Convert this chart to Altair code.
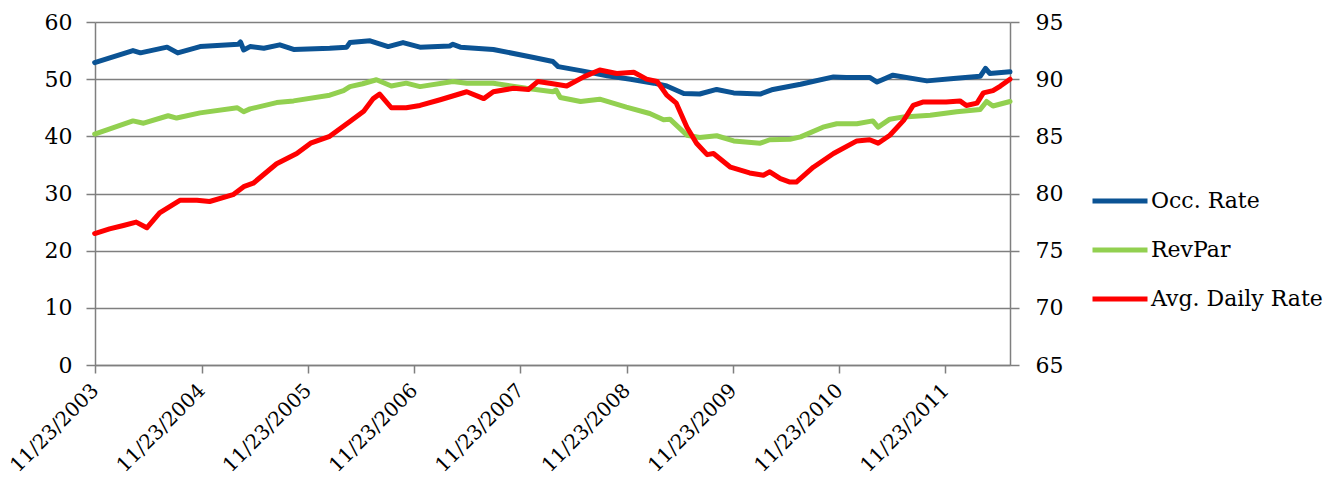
import altair as alt
import pandas as pd

# Series names and colours
series_names = ["Occ. Rate", "RevPar", "Avg. Daily Rate"]
series_colors = ["#0b5394", "#92d050", "#ff0000"]

# Dates as decimal years
occ_t = [2003.89, 2004.25, 2004.32, 2004.57, 2004.67, 2004.88, 2005.24, 2005.26, 2005.29, 2005.35,
         2005.48, 2005.63, 2005.76, 2006.10, 2006.26, 2006.29, 2006.48, 2006.65, 2006.79, 2006.95,
         2007.23, 2007.26, 2007.33, 2007.64, 2008.02, 2008.20, 2008.25, 2008.46, 2008.71, 2008.93,
         2009.15, 2009.27, 2009.43, 2009.58, 2009.74, 2009.90, 2010.15, 2010.27, 2010.53, 2010.84,
         2010.96, 2011.18, 2011.25, 2011.40, 2011.72, 2011.97, 2012.22, 2012.27, 2012.31, 2012.50]
occ_v = [52.9, 55.0, 54.6, 55.6, 54.6, 55.7, 56.1, 56.5, 55.1, 55.7,
         55.4, 56.0, 55.2, 55.4, 55.6, 56.4, 56.7, 55.7, 56.4, 55.6,
         55.8, 56.1, 55.6, 55.2, 53.8, 53.1, 52.2, 51.5, 50.6, 50.0,
         49.3, 48.8, 47.5, 47.4, 48.2, 47.6, 47.4, 48.2, 49.1, 50.4,
         50.3, 50.3, 49.5, 50.7, 49.7, 50.1, 50.5, 51.9, 51.0, 51.3]

rev_t = [2003.89, 2004.25, 2004.35, 2004.58, 2004.66, 2004.88, 2005.23, 2005.29, 2005.35, 2005.60,
         2005.76, 2006.10, 2006.23, 2006.29, 2006.41, 2006.54, 2006.68, 2006.82, 2006.95, 2007.26,
         2007.39, 2007.64, 2007.95, 2008.20, 2008.23, 2008.27, 2008.46, 2008.64, 2008.89, 2009.11,
         2009.24, 2009.30, 2009.46, 2009.58, 2009.74, 2009.90, 2010.15, 2010.24, 2010.43, 2010.53,
         2010.74, 2010.87, 2011.06, 2011.21, 2011.26, 2011.37, 2011.50, 2011.75, 2012.00, 2012.22,
         2012.28, 2012.34, 2012.50]
rev_v = [40.4, 42.7, 42.3, 43.6, 43.2, 44.1, 45.0, 44.3, 44.8, 45.9,
         46.2, 47.2, 48.0, 48.7, 49.2, 49.9, 48.8, 49.3, 48.7, 49.6,
         49.3, 49.3, 48.4, 47.8, 48.1, 46.8, 46.1, 46.5, 45.1, 44.0,
         42.9, 43.0, 40.2, 39.8, 40.1, 39.2, 38.8, 39.4, 39.5, 39.9,
         41.6, 42.2, 42.2, 42.7, 41.6, 43.0, 43.4, 43.7, 44.3, 44.7,
         46.1, 45.3, 46.1]

adr_t = [2003.89, 2004.03, 2004.16, 2004.28, 2004.38, 2004.50, 2004.69, 2004.85, 2004.97, 2005.19,
         2005.29, 2005.38, 2005.60, 2005.79, 2005.92, 2006.10, 2006.29, 2006.42, 2006.51, 2006.57,
         2006.68, 2006.82, 2006.95, 2007.14, 2007.39, 2007.55, 2007.64, 2007.83, 2007.97, 2008.06,
         2008.20, 2008.33, 2008.49, 2008.64, 2008.80, 2008.96, 2009.08, 2009.18, 2009.27, 2009.36,
         2009.46, 2009.55, 2009.65, 2009.71, 2009.87, 2010.05, 2010.18, 2010.24, 2010.34, 2010.43,
         2010.49, 2010.65, 2010.84, 2011.06, 2011.18, 2011.26, 2011.37, 2011.50, 2011.59, 2011.68,
         2011.90, 2012.03, 2012.09, 2012.19, 2012.25, 2012.34, 2012.41, 2012.50]
adr_v = [76.5, 76.9, 77.2, 77.5, 77.0, 78.3, 79.4, 79.4, 79.3, 79.9,
         80.6, 80.9, 82.6, 83.5, 84.4, 85.0, 86.3, 87.2, 88.3, 88.7,
         87.5, 87.5, 87.7, 88.2, 88.9, 88.3, 88.9, 89.2, 89.1, 89.8,
         89.6, 89.4, 90.2, 90.8, 90.5, 90.6, 90.0, 89.8, 88.6, 87.9,
         85.8, 84.4, 83.4, 83.5, 82.3, 81.8, 81.6, 81.9, 81.3, 81.0,
         81.0, 82.3, 83.5, 84.6, 84.7, 84.4, 85.1, 86.4, 87.7, 88.0,
         88.0, 88.1, 87.7, 87.9, 88.8, 89.0, 89.4, 90.0]

left_ticks = [0, 10, 20, 30, 40, 50, 60]
right_ticks = [65, 70, 75, 80, 85, 90, 95]
tick_years = list(range(2003, 2012))


def to_date(y):
    year = int(y)
    start = pd.Timestamp(year=year, month=1, day=1)
    end = pd.Timestamp(year=year + 1, month=1, day=1)
    return (start + (end - start) * (y - year)).strftime("%Y-%m-%dT%H:%M:%S")


rows = []
for name, ts, vs in [(series_names[0], occ_t, occ_v),
                     (series_names[1], rev_t, rev_v),
                     (series_names[2], adr_t, adr_v)]:
    for t, v in zip(ts, vs):
        rows.append({"date": to_date(t), "value": v, "series": name})
df = pd.DataFrame(rows)

FONT = "DejaVu Serif"
GRAY = "#7f7f7f"

x_enc = alt.X(
    "date:T",
    title=None,
    scale=alt.Scale(domain=[alt.DateTime(year=2003, month=11, date=23),
                            alt.DateTime(year=2012, month=7, date=2)]),
    axis=alt.Axis(
        values=[alt.DateTime(year=y, month=11, date=23) for y in tick_years],
        labelExpr="timeFormat(datum.value, '%m/%d/%Y')",
        labelAngle=-45, labelAlign="right", labelBaseline="middle",
        labelFont=FONT, labelFontSize=20, labelColor="black",
        labelPadding=14, labelOverlap=False, labelFlush=False, labelBound=False,
        tickSize=8, tickColor=GRAY, tickWidth=1.5,
        domainColor=GRAY, domainWidth=1.5, grid=False,
    ),
)

color_enc = alt.Color(
    "series:N",
    scale=alt.Scale(domain=series_names, range=series_colors),
    legend=alt.Legend(
        title=None, orient="none", legendX=995, legendY=149,
        symbolType="stroke", symbolSize=3025, symbolStrokeWidth=5,
        labelFont=FONT, labelFontSize=22, labelColor="black", labelLimit=400,
        labelOffset=1, rowPadding=8, padding=0,
    ),
)

left = alt.Chart(df).transform_filter(
    alt.FieldOneOfPredicate(field="series", oneOf=series_names[:2])
).mark_line(strokeWidth=5, strokeJoin="round", strokeCap="round").encode(
    x=x_enc,
    y=alt.Y("value:Q", title=None,
            scale=alt.Scale(domain=[0, 60], nice=False, zero=False),
            axis=alt.Axis(orient="left", values=left_ticks, grid=True,
                          gridColor=GRAY, gridWidth=1.5,
                          labelFont=FONT, labelFontSize=22, labelColor="black",
                          labelPadding=14, tickSize=9, tickColor=GRAY, tickWidth=1.5,
                          domainColor=GRAY, domainWidth=1.5)),
    color=color_enc,
)

right = alt.Chart(df).transform_filter(
    alt.datum.series == series_names[2]
).mark_line(strokeWidth=5, strokeJoin="round", strokeCap="round").encode(
    x=x_enc,
    y=alt.Y("value:Q", title=None,
            scale=alt.Scale(domain=[65, 95], nice=False, zero=False),
            axis=alt.Axis(orient="right", values=right_ticks, grid=False,
                          labelFont=FONT, labelFontSize=22, labelColor="black",
                          labelPadding=16, tickSize=9, tickColor=GRAY, tickWidth=1.5,
                          domainColor=GRAY, domainWidth=1.5)),
    color=color_enc,
)

chart = alt.layer(left, right).resolve_scale(y="independent").properties(
    width=915, height=343,
    autosize=alt.AutoSizeParams(type="none"),
    padding={"left": 87, "top": 14, "right": 315, "bottom": 108},
    background="white",
).configure_view(stroke=None)

chart.save("out.html", embed_options={"renderer": "svg", "actions": False})
